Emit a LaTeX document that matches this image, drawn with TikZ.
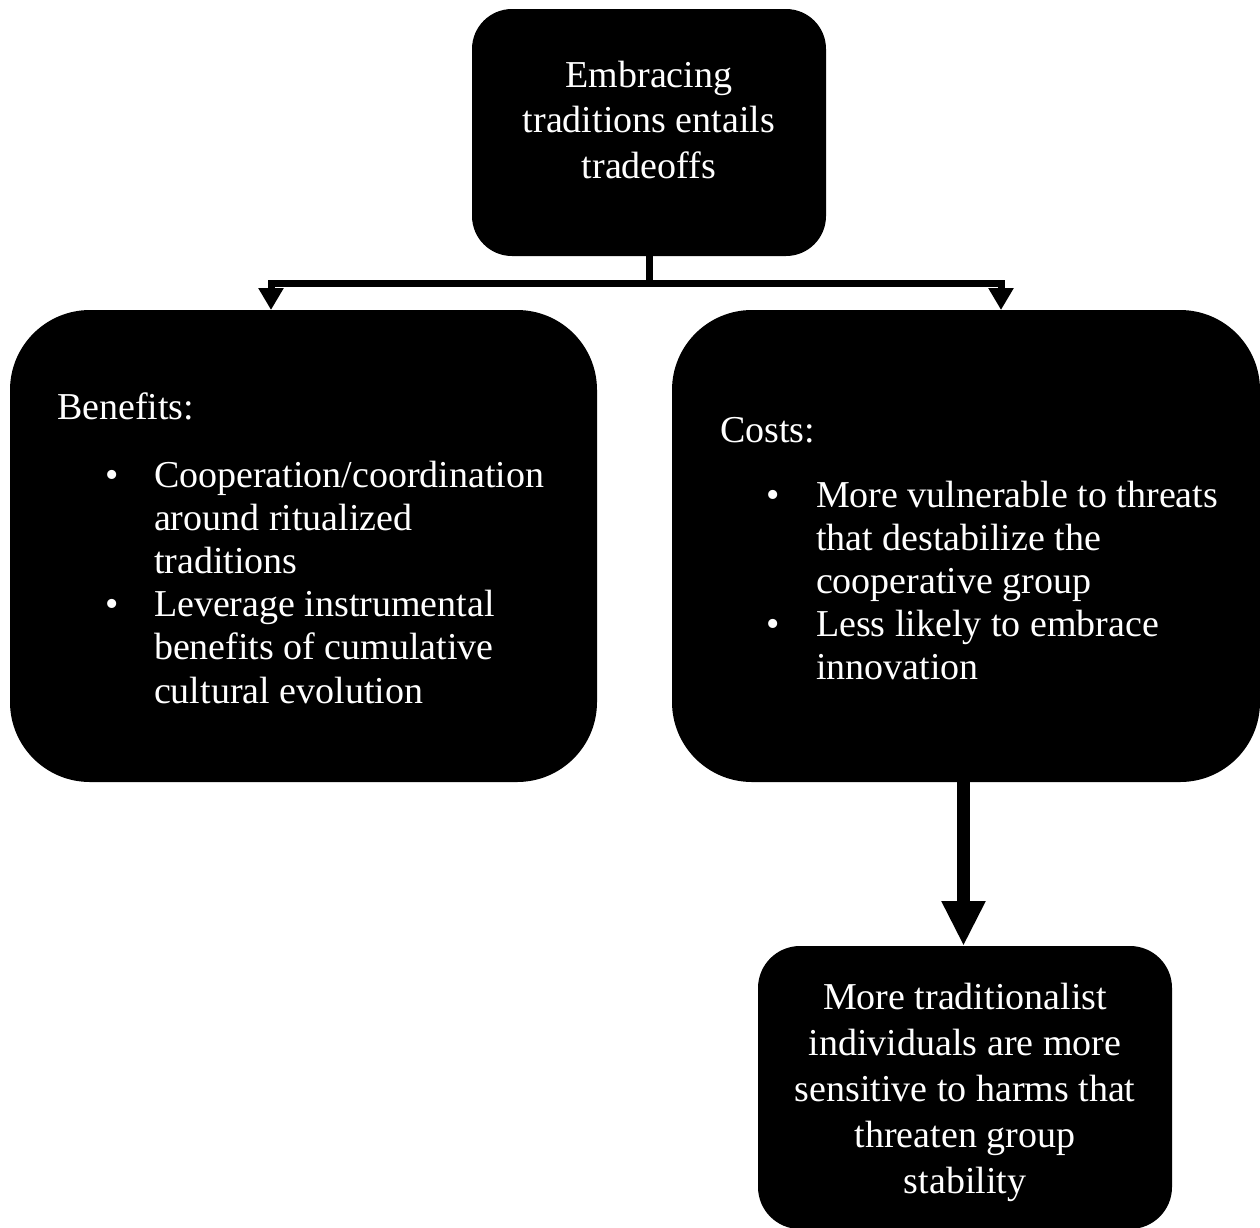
\documentclass[tikz,border=0pt]{standalone}
\usepackage{fontspec}
\setmainfont{Liberation Serif}
\usetikzlibrary{arrows.meta}
\begin{document}
\begin{tikzpicture}[x=1pt,y=-1pt,
  box/.style={draw=none,fill=black,inner sep=0pt,outer sep=0pt},
  txt/.style={text=white,inner sep=0pt,outer sep=0pt,font=\fontsize{38}{43}\selectfont},
  lt/.style={txt,anchor=base west},
  ct/.style={txt,anchor=base},
  conn/.style={line width=7pt,draw=black},
  bigconn/.style={line width=12.5pt,draw=black}]
\useasboundingbox (0,0) rectangle (1260,1227);
% boxes
\node[box,rounded corners=40pt,minimum width=354pt,minimum height=247pt] (top) at (649,132.5) {};
\node[box,rounded corners=80pt,minimum width=587pt,minimum height=472pt] (left) at (303.5,546) {};
\node[box,rounded corners=80pt,minimum width=588pt,minimum height=472pt] (right) at (966,546) {};
\node[box,rounded corners=42pt,minimum width=414pt,minimum height=283pt] (bottom) at (965,1087.5) {};
% top text
\node[ct] (t1) at (649,87) {Embracing};
\node[ct] (t2) at (649,132.5) {traditions entails};
\node[ct] (t3) at (649,178) {tradeoffs};
% left text
\node[lt] (l0) at (57,419) {Benefits:};
\node[ct] (lb1) at (112,487) {•};
\node[lt] (l1) at (154,487) {Cooperation/coordination};
\node[lt] (l2) at (154,530.2) {around ritualized};
\node[lt] (l3) at (154,573.4) {traditions};
\node[ct] (lb2) at (112,616.6) {•};
\node[lt] (l4) at (154,616.6) {Leverage instrumental};
\node[lt] (l5) at (154,659.8) {benefits of cumulative};
\node[lt] (l6) at (154,703) {cultural evolution};
% right text
\node[lt] (r0) at (720,442) {Costs:};
\node[ct] (rb1) at (773,507) {•};
\node[lt] (r1) at (816,507) {More vulnerable to threats};
\node[lt] (r2) at (816,550) {that destabilize the};
\node[lt] (r3) at (816,593) {cooperative group};
\node[ct] (rb2) at (773,636) {•};
\node[lt] (r4) at (816,636) {Less likely to embrace};
\node[lt] (r5) at (816,679) {innovation};
% bottom text
\node[ct] (b1) at (965,1009) {More traditionalist};
\node[ct] (b2) at (965,1055) {individuals are more};
\node[ct] (b3) at (965,1101) {sensitive to harms that};
\node[ct] (b4) at (965,1147) {threaten group};
\node[ct] (b5) at (965,1193) {stability};
% connectors
\coordinate (j) at (649,283.5);
\coordinate (ltip) at (271,310);
\coordinate (rtip) at (1001,310);
\draw[conn] (top.south) -- (j);
\draw[conn,-{Triangle[width=24pt,length=22pt]}] (j) -| (ltip);
\draw[conn,-{Triangle[width=24pt,length=22pt]}] (j) -| (rtip);
\coordinate (bs) at (963.5,782);
\coordinate (be) at (963.5,946);
\draw[bigconn,-{Triangle[width=41pt,length=45pt]}] (bs) -- (be);
\end{tikzpicture}
\end{document}
